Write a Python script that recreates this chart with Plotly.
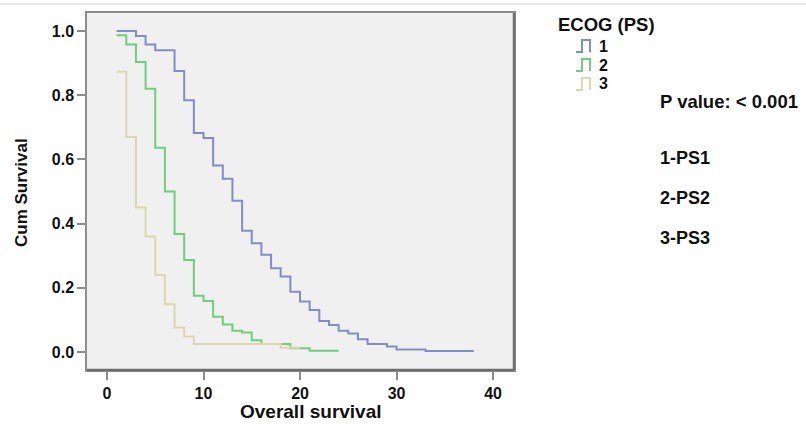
import plotly.graph_objects as go

# ---- data ----
ps1_time = [1, 3, 4, 5, 7, 8, 9, 10, 11, 12, 13, 14, 15, 16, 17, 18, 19, 20, 21, 22, 23, 24, 25, 26, 27, 29, 30, 33, 38]
ps1_surv = [1.0, 0.984, 0.958, 0.94, 0.875, 0.784, 0.682, 0.667, 0.581, 0.54, 0.471, 0.378, 0.339, 0.303, 0.261, 0.235,
            0.188, 0.157, 0.131, 0.097, 0.084, 0.066, 0.058, 0.040, 0.025, 0.017, 0.008, 0.003, 0.003]

ps2_time = [1, 2, 3, 4, 5, 6, 7, 8, 9, 10, 11, 12, 13, 14, 15, 16, 19, 21, 24]
ps2_surv = [0.987, 0.958, 0.903, 0.82, 0.636, 0.50, 0.368, 0.287, 0.175, 0.159, 0.11, 0.086, 0.066, 0.061, 0.037,
            0.025, 0.012, 0.004, 0.004]

ps3_time = [1, 2, 3, 4, 5, 6, 7, 8, 9, 18, 20]
ps3_surv = [0.873, 0.67, 0.45, 0.36, 0.24, 0.149, 0.076, 0.048, 0.025, 0.013, 0.013]

group_names = ["1", "2", "3"]
group_colors = ["#7f8ecb", "#6fcd7c", "#ddd7ae"]
legend_title = "ECOG (PS)"

x_ticks = [0, 10, 20, 30, 40]
y_ticks = [0.0, 0.2, 0.4, 0.6, 0.8, 1.0]
y_tick_text = ["0.0", "0.2", "0.4", "0.6", "0.8", "1.0"]

side_notes = ["1-PS1", "2-PS2", "3-PS3"]
p_text = "P value: < 0.001"

# ---- layout geometry (pixels) ----
W, H = 806, 424
L, R, T, B = 87, 514, 13, 370
pw, ph = R - L, B - T


def px(xp):
    return (xp - L) / pw


def py(yp):
    return (B - yp) / ph


FONT = "Liberation Sans, Arial, sans-serif"
INK = "#111111"


def bold(size):
    return dict(family=FONT, size=size, color=INK, weight="bold")


fig = go.Figure()
for t, s, name, col in zip([ps1_time, ps2_time, ps3_time], [ps1_surv, ps2_surv, ps3_surv], group_names, group_colors):
    fig.add_trace(go.Scatter(x=t, y=s, mode="lines", name=name, showlegend=False,
                             line=dict(color=col, width=2, shape="hv")))

axis_common = dict(
    showgrid=False, zeroline=False, showline=True, linecolor="#8c8c8c", linewidth=1.5, mirror=True,
    ticks="outside", ticklen=8, tickwidth=1.5, tickcolor="#8c8c8c",
    tickfont=bold(16),
)

fig.update_layout(
    width=W, height=H,
    margin=dict(l=L, r=W - R, t=T, b=H - B),
    paper_bgcolor="white", plot_bgcolor="#f0f0f0",
    font=dict(family=FONT, color=INK),
    xaxis=dict(range=[-2.07, 42.17], tickvals=x_ticks, **axis_common),
    yaxis=dict(range=[-0.056, 1.056], tickvals=y_ticks, ticktext=y_tick_text, **axis_common),
    showlegend=False,
)

annotations = [
    dict(text="Overall survival", x=px(311), y=py(411), font=bold(19), xanchor="center", yanchor="middle"),
    dict(text="Cum Survival", x=px(21), y=py(193), textangle=-90, font=bold(17), xanchor="center", yanchor="middle"),
    dict(text=p_text, x=px(658), y=py(101), font=bold(18.5), xanchor="left", yanchor="middle"),
    dict(text=legend_title, x=px(556), y=py(25), font=bold(18.5), xanchor="left", yanchor="middle"),
]
for i, note in enumerate(side_notes):
    annotations.append(dict(text=note, x=px(658), y=py(158 + 40 * i), font=bold(18),
                            xanchor="left", yanchor="middle"))

# hand-drawn legend (step glyph + label) to mimic the SPSS legend
shapes = []
for i, (name, col) in enumerate(zip(group_names, group_colors)):
    yc = 46 + 19 * i
    annotations.append(dict(text=name, x=px(598), y=py(yc), font=bold(16), xanchor="left", yanchor="middle",
                            height=15, valign="middle", borderpad=0))
    ylo, yhi = yc + 6, yc - 6
    path = (f"M {px(576)},{py(ylo)} L {px(582)},{py(ylo)} L {px(582)},{py(yhi)} "
            f"L {px(590)},{py(yhi)} L {px(590)},{py(ylo)}")
    shapes.append(dict(type="path", xref="paper", yref="paper", path=path, line=dict(color=col, width=2)))

for a in annotations:
    a.update(xref="paper", yref="paper", showarrow=False)

# frame shadow (right and bottom) and thin top rule
shapes += [
    dict(type="line", xref="paper", yref="paper", x0=1.0, x1=1.0, y0=0, y1=1, line=dict(color="#6e6e6e", width=2.5)),
    dict(type="line", xref="paper", yref="paper", x0=0, x1=1.0, y0=0, y1=0, line=dict(color="#6e6e6e", width=2.5)),
    dict(type="line", xref="paper", yref="paper", x0=px(0), x1=px(W), y0=py(4), y1=py(4),
         line=dict(color="#cfcfcf", width=1)),
]
fig.update_layout(annotations=annotations, shapes=shapes)

fig.write_html("out.html", config={"displayModeBar": False},
               post_script="document.body.style.margin='0';")
